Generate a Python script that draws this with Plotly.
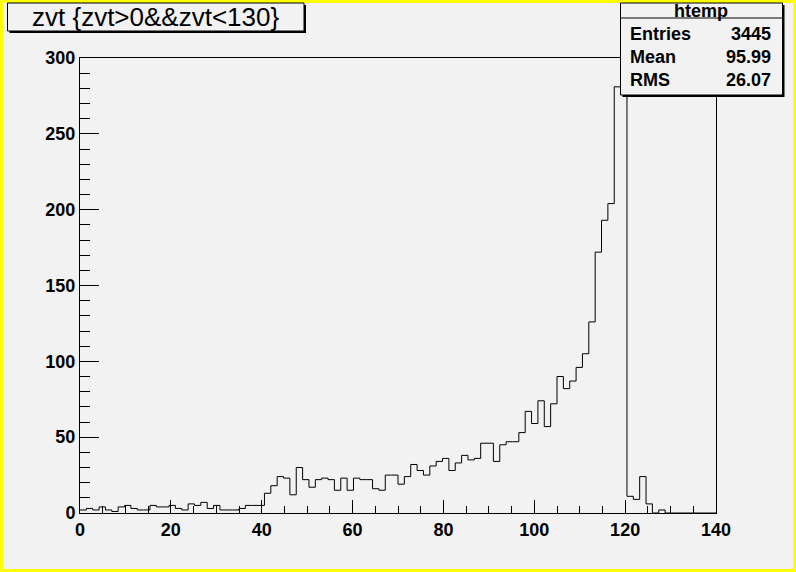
import plotly.graph_objects as go

# ---- data ----
x_min = 0.0
x_max = 140.0
n_bins = 100
bin_counts = [
    2, 3, 2, 4, 2, 1, 4, 5, 3, 2,
    2, 5, 4, 4, 5, 3, 2, 6, 5, 7,
    3, 5, 2, 2, 2, 3, 5, 5, 5, 13,
    18, 24, 23, 12, 30, 22, 17, 22, 23, 22,
    15, 23, 15, 23, 22, 22, 16, 15, 25, 25,
    19, 24, 32, 28, 25, 31, 34, 36, 28, 33,
    38, 35, 36, 46, 46, 34, 45, 47, 47, 53,
    67, 59, 74, 57, 72, 90, 82, 87, 96, 105,
    126, 172, 193, 204, 281, 381, 11, 9, 24, 6,
    0, 2, 0, 0, 0, 0, 0, 0, 0, 0,
]
x_ticks = [0, 20, 40, 60, 80, 100, 120, 140]
y_ticks = [0, 50, 100, 150, 200, 250, 300]
y_max = 300
title_text = "zvt {zvt>0&&zvt<130}"
stats_name = "htemp"
stats_labels = ["Entries", "Mean", "RMS"]
stats_values = ["3445", "95.99", "26.07"]

# ---- build step outline ----
bw = (x_max - x_min) / n_bins
edges = [x_min + bw * i for i in range(n_bins + 1)]
ys = bin_counts + [bin_counts[-1]]

W, H = 796, 572
L, R, T, B = 80, 716, 58, 513


def px(x):
    return (x - L) / (R - L)


def py(y):
    return (B - y) / (B - T)


fig = go.Figure()
fig.add_trace(go.Scatter(
    x=edges, y=ys, mode="lines", line=dict(shape="hv", color="black", width=1),
    hoverinfo="skip", showlegend=False,
))

axis_font = dict(family="Liberation Sans", size=18, color="black", weight="bold")

fig.update_layout(
    width=W, height=H,
    margin=dict(l=L, r=W - R, t=T, b=H - B, pad=0),
    paper_bgcolor="#ffff00",
    plot_bgcolor="#f2f2f2",
    showlegend=False,
    xaxis=dict(
        range=[x_min, x_max], tickvals=x_ticks, ticks="inside", ticklen=13,
        tickcolor="black", tickwidth=1, showline=True, mirror=True,
        linecolor="black", linewidth=1, showgrid=False, zeroline=False,
        tickfont=axis_font,
        minor=dict(ticks="inside", ticklen=7, dtick=5, tickcolor="black", showgrid=False),
    ),
    yaxis=dict(
        range=[0, y_max], tickvals=y_ticks, ticks="inside", ticklen=19,
        tickcolor="black", tickwidth=1, showline=True, mirror=True,
        linecolor="black", linewidth=1, showgrid=False, zeroline=False,
        tickfont=axis_font,
        minor=dict(ticks="inside", ticklen=10, dtick=10, tickcolor="black", showgrid=False),
    ),
)

shapes = []
# canvas fill inside the yellow border
shapes.append(dict(type="rect", xref="paper", yref="paper", layer="below",
                   x0=px(3), x1=px(W - 3), y0=py(H - 3), y1=py(3),
                   fillcolor="#f2f2f2", line=dict(width=0)))
# title box (shadow + box)
shapes.append(dict(type="rect", xref="paper", yref="paper", layer="above",
                   x0=px(9.5), x1=px(306), y0=py(33), y1=py(5),
                   fillcolor="black", line=dict(width=0)))
shapes.append(dict(type="rect", xref="paper", yref="paper", layer="above",
                   x0=px(7.5), x1=px(304), y0=py(31), y1=py(3),
                   fillcolor="#f2f2f2", line=dict(color="black", width=1)))
# stats box (shadow + box)
shapes.append(dict(type="rect", xref="paper", yref="paper", layer="above",
                   x0=px(622.5), x1=px(784.5), y0=py(97), y1=py(5),
                   fillcolor="black", line=dict(width=0)))
shapes.append(dict(type="rect", xref="paper", yref="paper", layer="above",
                   x0=px(620.5), x1=px(782.5), y0=py(95), y1=py(3),
                   fillcolor="#f2f2f2", line=dict(color="black", width=1)))
shapes.append(dict(type="line", xref="paper", yref="paper", layer="above",
                   x0=px(620.5), x1=px(782.5), y0=py(18), y1=py(18),
                   line=dict(color="black", width=1)))
fig.update_layout(shapes=shapes)

ann = []
ann.append(dict(xref="paper", yref="paper", x=px(155.5), y=py(17), text=title_text,
                showarrow=False, xanchor="center", yanchor="middle",
                font=dict(family="Liberation Sans", size=26, color="black")))
stat_font = dict(family="Liberation Sans", size=18, color="black", weight="bold")
ann.append(dict(xref="paper", yref="paper", x=px(701), y=py(11), text=stats_name,
                showarrow=False, xanchor="center", yanchor="middle", font=stat_font))
for i, (lab, val) in enumerate(zip(stats_labels, stats_values)):
    yc = 34 + 23 * i
    ann.append(dict(xref="paper", yref="paper", x=px(628), y=py(yc), text=lab,
                    showarrow=False, xanchor="left", yanchor="middle", font=stat_font))
    ann.append(dict(xref="paper", yref="paper", x=px(773), y=py(yc), text=val,
                    showarrow=False, xanchor="right", yanchor="middle", font=stat_font))
fig.update_layout(annotations=ann)

fig.write_html(
    "out.html",
    config={"displayModeBar": False},
    post_script="document.body.style.margin='0';document.body.style.overflow='hidden';",
)
